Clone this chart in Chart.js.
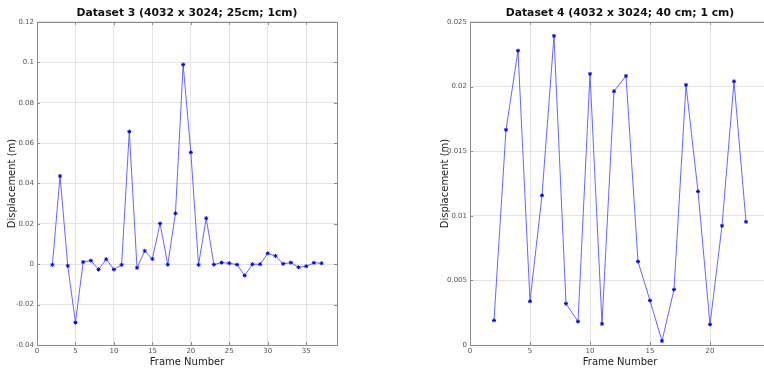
<!DOCTYPE html>
<html>
<head>
<meta charset="utf-8">
<script src="https://cdn.jsdelivr.net/npm/chart.js@4.4.1/dist/chart.umd.min.js"></script>
<style>
  html, body { margin: 0; padding: 0; background: #fff; overflow: hidden; width: 764px; height: 369px; }
  .box { position: absolute; top: 0; height: 369px; }
  #left { left: 0; width: 382px; }
  #right { left: 382px; width: 500px; }
</style>
</head>
<body>
<div class="box" id="left"><canvas id="chart3"></canvas></div>
<div class="box" id="right"><canvas id="chart4"></canvas></div>
<script>
const frames3 = [2, 3, 4, 5, 6, 7, 8, 9, 10, 11, 12, 13, 14, 15, 16, 17, 18, 19, 20,
  21, 22, 23, 24, 25, 26, 27, 28, 29, 30, 31, 32, 33, 34, 35, 36, 37];
const disp3 = [-0.0003, 0.0437, -0.0008, -0.0289, 0.0011, 0.0018, -0.0026, 0.0025, -0.0026, -0.0003,
  0.0657, -0.0018, 0.0066, 0.0026, 0.0202, -0.0002, 0.0252, 0.0989, 0.0554,
  -0.0003, 0.0228, -0.0002, 0.0008, 0.0005, -0.0002, -0.0056, 0.0, 0.0, 0.0054, 0.0041,
  0.0002, 0.0008, -0.0015, -0.001, 0.0007, 0.0005];

const frames4 = [2, 3, 4, 5, 6, 7, 8, 9, 10, 11, 12, 13, 14, 15, 16, 17, 18, 19, 20, 21, 22, 23];
const disp4 = [0.0019, 0.01665, 0.02278, 0.00338, 0.01158, 0.02392, 0.0032, 0.00181, 0.02098, 0.00163,
  0.01964, 0.02082, 0.00646, 0.00344, 0.00031, 0.00429, 0.02013, 0.01189, 0.00158, 0.00922,
  0.02041, 0.00953];

const titles = ['Dataset 3 (4032 x 3024; 25cm; 1cm)', 'Dataset 4 (4032 x 3024; 40 cm; 1 cm)'];
const xLabel = 'Frame Number';
const yLabel = 'Displacement (m)';

const FONT = "'DejaVu Sans', sans-serif";

// box round the plot area plus small inward ticks, like matlab's "box on"
const boxPlugin = {
  id: 'boxOn',
  afterDraw(chart) {
    const a = chart.chartArea;
    const ctx = chart.ctx;
    const xs = chart.scales.x, ys = chart.scales.y;
    const t = 3;
    ctx.save();
    ctx.strokeStyle = '#8c8c8c';
    ctx.lineWidth = 1;
    ctx.beginPath();
    xs.ticks.forEach(tk => {
      const px = Math.round(xs.getPixelForValue(tk.value)) + 0.5;
      ctx.moveTo(px, a.top); ctx.lineTo(px, a.top + t);
      ctx.moveTo(px, a.bottom); ctx.lineTo(px, a.bottom - t);
    });
    ys.ticks.forEach(tk => {
      const py = Math.round(ys.getPixelForValue(tk.value)) + 0.5;
      ctx.moveTo(a.left, py); ctx.lineTo(a.left + t, py);
      ctx.moveTo(a.right, py); ctx.lineTo(a.right - t, py);
    });
    ctx.stroke();
    ctx.strokeRect(Math.round(a.left) + 0.5, Math.round(a.top) + 0.5,
      Math.round(a.right - a.left), Math.round(a.bottom - a.top));
    ctx.restore();
  }
};

const fmt = v => String(Number(Number(v).toPrecision(6)));

function makeChart(id, frames, disp, title, xmax, ymin, ymax, ystep, yWidth, yTitlePad, padRight) {
  const pts = frames.map((f, i) => ({ x: f, y: disp[i] }));
  return new Chart(document.getElementById(id), {
    type: 'line',
    data: {
      datasets: [{
        data: pts,
        borderColor: '#5555ff',
        borderWidth: 0.9,
        pointStyle: 'star',
        pointRadius: 2,
        pointBorderColor: '#0000dd',
        pointBackgroundColor: '#0000dd',
        pointBorderWidth: 1,
        tension: 0
      }]
    },
    options: {
      responsive: true,
      maintainAspectRatio: false,
      animation: false,
      layout: { padding: { left: 0, right: padRight, top: 0, bottom: 0 } },
      plugins: {
        legend: { display: false },
        tooltip: { enabled: false },
        title: {
          display: true,
          text: title,
          fullSize: false,
          color: '#111',
          font: { family: FONT, size: 10.8, weight: 'bold' },
          padding: { top: 6.5, bottom: 2.5 }
        }
      },
      scales: {
        x: {
          type: 'linear',
          min: 0,
          max: xmax,
          afterFit(scale) { scale.height = 24; },
          ticks: {
            stepSize: 5,
            includeBounds: false,
            maxRotation: 0,
            padding: 2,
            color: '#555',
            font: { family: FONT, size: 7 },
            callback: fmt
          },
          grid: { color: '#e4e4e4', drawTicks: false },
          border: { display: false },
          title: {
            display: true,
            text: xLabel,
            color: '#222',
            font: { family: FONT, size: 10 },
            padding: { top: 0, bottom: 1 }
          }
        },
        y: {
          min: ymin,
          max: ymax,
          afterFit(scale) { scale.width = yWidth; },
          ticks: {
            stepSize: ystep,
            padding: 3,
            color: '#555',
            font: { family: FONT, size: 7 },
            callback: fmt
          },
          grid: { color: '#e4e4e4', drawTicks: false },
          border: { display: false },
          title: {
            display: true,
            text: yLabel,
            color: '#222',
            font: { family: FONT, size: 10 },
            padding: { top: yTitlePad, bottom: 0 }
          }
        }
      }
    },
    plugins: [boxPlugin]
  });
}

makeChart('chart3', frames3, disp3, titles[0], 39, -0.04, 0.12, 0.02, 37, 6, 45);
makeChart('chart4', frames4, disp4, titles[1], 25, 0, 0.025, 0.005, 88, 57, 112);
</script>
</body>
</html>
